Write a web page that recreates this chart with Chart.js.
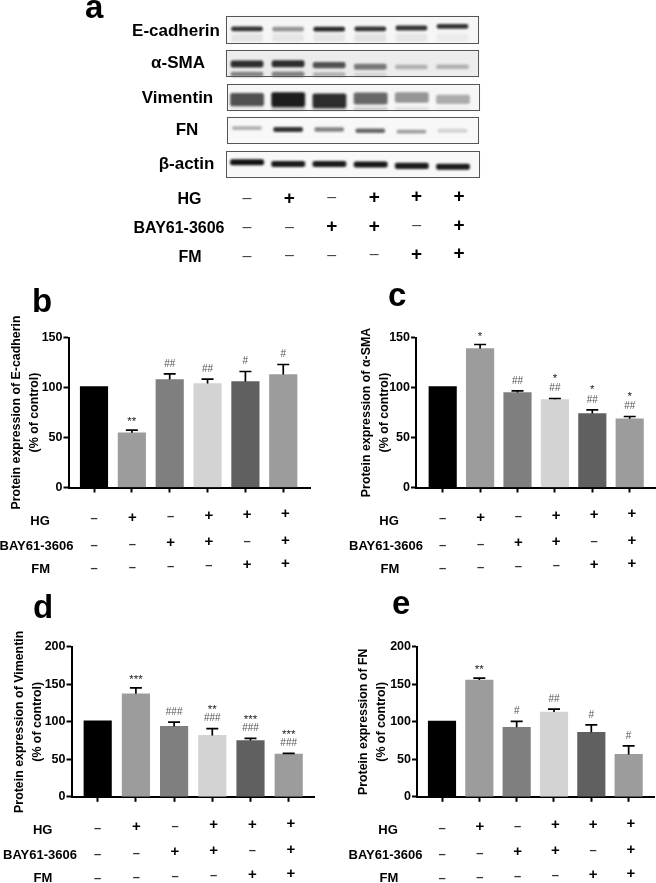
<!DOCTYPE html>
<html>
<head>
<meta charset="utf-8">
<script src="https://cdn.jsdelivr.net/npm/chart.js@4"></script>
<style>
html,body{margin:0;padding:0;background:#fff;}
#page{position:relative;width:656px;height:883px;overflow:hidden;filter:blur(0.3px);font-family:"Liberation Sans",Arial,sans-serif;color:#000;}
#page canvas{position:absolute;}
.t{position:absolute;font-weight:bold;white-space:nowrap;transform:translate(-50%,-50%);line-height:1;}
.letter{position:absolute;font-weight:bold;font-size:33px;line-height:1;color:#000;}
.box{position:absolute;border:1px solid #555;box-sizing:border-box;}
</style>
</head>
<body>
<div id="page"></div>
<script>
// ---------- Categories ----------
const groups = ['Control', 'HG', 'BAY', 'HG+BAY', 'HG+FM', 'HG+BAY+FM'];
const rowNames = ['HG', 'BAY61-3606', 'FM'];
const hgSigns  = ['–', '+', '–', '+', '+', '+'];
const baySigns = ['–', '–', '+', '+', '–', '+'];
const fmSigns  = ['–', '–', '–', '–', '+', '+'];
const barColors = ['#000000', '#9c9c9c', '#7f7f7f', '#d3d3d3', '#606060', '#9c9c9c'];

// ---------- Bar values and error-bar tops ----------
const ecadherinValues = [101, 54.7, 108, 104, 106, 113];
const ecadherinTops   = [101, 57.3, 113.7, 108.3, 116, 123];
const ecadherinMarks  = [[], ['**'], ['##'], ['##'], ['#'], ['#']];
const smaValues = [101, 139, 95, 88, 74, 68.7];
const smaTops   = [101, 143, 96.7, 89, 77.7, 71];
const smaMarks  = [[], ['*'], ['##'], ['*', '##'], ['*', '##'], ['*', '##']];
const vimentinValues = [101.3, 137.3, 93.8, 81.8, 75, 57];
const vimentinTops   = [101.3, 145.3, 99.6, 91, 77.8, 57.8];
const vimentinMarks  = [[], ['***'], ['###'], ['**', '###'], ['***', '###'], ['***', '###']];
const fnValues = [101, 155.7, 92.7, 113, 86, 56.5];
const fnTops   = [101, 158.3, 100.7, 117, 96, 68];
const fnMarks  = [[], ['**'], ['#'], ['##'], ['#'], ['#']];
const yTicks150 = [0, 50, 100, 150];
const yTicks200 = [0, 50, 100, 150, 200];

// ---------- Western blot bands (darkness 0-1, height within strip in %) ----------
const blotEcadDark = [0.85, 0.42, 0.9, 0.85, 0.85, 0.85];
const blotEcadPos  = [54, 53, 53, 54, 57, 63];
const blotEcadSize = [14, 14, 15, 15, 15, 14];
const blotEcadLowDark = [0.07, 0.06, 0.06, 0.08, 0.06, 0.04];
const blotEcadLowPos  = [22, 22, 22, 22, 22, 22];
const blotEcadLowSize = [26, 26, 26, 26, 26, 26];
const blotSmaDark = [0.88, 0.88, 0.72, 0.55, 0.3, 0.3];
const blotSmaPos  = [48, 49, 44, 38, 37, 38];
const blotSmaSize = [24, 24, 20, 20, 14, 14];
const blotSmaLowDark = [0.5, 0.5, 0.3, 0.15, 0.03, 0.03];
const blotSmaLowPos  = [10, 10, 9, 8, 8, 8];
const blotSmaLowSize = [16, 18, 14, 12, 10, 10];
const blotVimDark = [0.72, 0.95, 0.88, 0.62, 0.42, 0.32];
const blotVimPos  = [42, 42, 38, 46, 50, 43];
const blotVimSize = [46, 52, 52, 42, 36, 32];
const blotVimLowDark = [0.05, 0.25, 0.25, 0.2, 0.1, 0.03];
const blotVimLowPos  = [8, 8, 8, 8, 8, 8];
const blotVimLowSize = [10, 10, 10, 10, 10, 10];
const blotFnDark = [0.3, 0.85, 0.5, 0.62, 0.38, 0.15];
const blotFnPos  = [59, 54, 54, 49, 46, 49];
const blotFnSize = [11, 16, 14, 14, 12, 12];
const blotActinDark = [1, 0.96, 0.96, 0.98, 0.96, 0.96];
const blotActinPos  = [58, 52, 52, 50, 45, 42];
const blotActinSize = [20, 20, 20, 20, 20, 20];

const page = document.getElementById('page');
const FONT = '"Liberation Sans", Arial, sans-serif';

function addCanvas(x, y, w, h) {
  const c = document.createElement('canvas');
  c.width = w; c.height = h;
  c.style.left = x + 'px'; c.style.top = y + 'px';
  c.style.width = w + 'px'; c.style.height = h + 'px';
  page.appendChild(c);
  return c;
}
function addText(text, x, y, size, cls, color, weight) {
  const d = document.createElement('div');
  d.className = cls || 't';
  d.textContent = text;
  d.style.left = x + 'px'; d.style.top = y + 'px';
  d.style.fontSize = size + 'px';
  if (color) d.style.color = color;
  if (weight) d.style.fontWeight = weight;
  page.appendChild(d);
}

// ---------- Panel letters ----------
[['a', 85, -10.4], ['b', 32, 283.6], ['c', 388, 277.6], ['d', 33, 589.6], ['e', 392, 585.6]]
  .forEach(l => addText(l[0], l[1], l[2], 33, 'letter'));

// ---------- Blot strips ----------
function blot(cfg) {
  const W = cfg.x1 - cfg.x0, H = cfg.y1 - cfg.y0;
  const gray = d => { const g = Math.round(244 - 226 * d); return `rgb(${g},${g},${g})`; };
  const band = (dark, pos, size, width) => ({
    data: dark.map((d, i) => ({ x: i, y: [pos[i] - size[i] / 2, pos[i] + size[i] / 2] })),
    backgroundColor: dark.map(gray),
    barThickness: width,
    borderRadius: 2,
    borderSkipped: false,
    grouped: false
  });
  const datasets = [band(cfg.dark, cfg.pos, cfg.size, cfg.width)];
  if (cfg.lowDark) datasets.push(band(cfg.lowDark, cfg.lowPos, cfg.lowSize, cfg.width));
  const canvas = addCanvas(cfg.x0, cfg.y0, W, H);
  canvas.style.filter = 'blur(0.9px)';
  const unit = 41.1, start = (247 - cfg.x0) / unit;
  const ch = new Chart(canvas, {
    type: 'bar',
    data: { labels: groups, datasets },
    options: {
      animation: false, responsive: false,
      layout: { padding: 0 },
      plugins: { legend: { display: false }, tooltip: { enabled: false } },
      scales: {
        x: { type: 'linear', offset: false, display: false, min: -start, max: (W / unit) - start, grid: { display: false, offset: false } },
        y: { display: false, min: 0, max: 100, grid: { display: false } }
      }
    },
    plugins: [{ id: 'bg', beforeDraw(c) { c.ctx.fillStyle = cfg.bg; c.ctx.fillRect(0, 0, W, H); } }]
  });
  const box = document.createElement('div');
  box.className = 'box';
  box.style.cssText += `left:${cfg.x0}px;top:${cfg.y0}px;width:${W}px;height:${H}px;`;
  page.appendChild(box);
  addText(cfg.name, cfg.lx, cfg.ly, 17);
  return ch;
}
blot({ name: 'E-cadherin', lx: 176, ly: 30, x0: 226, x1: 479, y0: 15.5, y1: 43.5, dark: blotEcadDark, pos: blotEcadPos, size: blotEcadSize, lowDark: blotEcadLowDark, lowPos: blotEcadLowPos, lowSize: blotEcadLowSize, width: 31, bg: '#f6f6f6' });
blot({ name: 'α-SMA', lx: 178, ly: 62, x0: 226, x1: 479, y0: 49.5, y1: 76.5, dark: blotSmaDark, pos: blotSmaPos, size: blotSmaSize, lowDark: blotSmaLowDark, lowPos: blotSmaLowPos, lowSize: blotSmaLowSize, width: 32, bg: '#ececec' });
blot({ name: 'Vimentin', lx: 177.5, ly: 97, x0: 227, x1: 479.5, y0: 83.5, y1: 111, dark: blotVimDark, pos: blotVimPos, size: blotVimSize, lowDark: blotVimLowDark, lowPos: blotVimLowPos, lowSize: blotVimLowSize, width: 33, bg: '#f6f6f6' });
blot({ name: 'FN', lx: 187, ly: 129, x0: 227, x1: 479, y0: 116.5, y1: 143.5, dark: blotFnDark, pos: blotFnPos, size: blotFnSize, width: 29, bg: '#f8f8f8' });
blot({ name: 'β-actin', lx: 186.5, ly: 163, x0: 226, x1: 479.5, y0: 150.5, y1: 177.5, dark: blotActinDark, pos: blotActinPos, size: blotActinSize, width: 33, bg: '#f8f8f8' });

// ---------- Sign rows of the blot panel ----------
[[hgSigns, 198, 189.5], [baySigns, 227, 179], [fmSigns, 255.7, 190]].forEach((r, k) => {
  addText(rowNames[k], r[2], r[1] + 1, 16);
  r[0].forEach((s, i) => {
    const plus = s === '+';
    addText(s, 247 + i * 42.4, r[1] - i * 0.5 + (plus ? -1 : 0), plus ? 19 : 16, 't', plus ? '#000' : '#444', plus ? 'bold' : 'normal');
  });
});

// ---------- Bar panels ----------
function panel(cfg) {
  const { px, py, pw, ph } = cfg;
  const canvas = addCanvas(px, py, pw, ph);
  const step = cfg.step;
  const xMin = -(cfg.c0 - cfg.axisX) / step;
  const xMax = (cfg.endX - cfg.c0) / step;
  const overlay = {
    id: 'overlay',
    afterDatasetsDraw(c) {
      const ctx = c.ctx, x = c.scales.x, y = c.scales.y;
      ctx.save();
      // error bars
      ctx.strokeStyle = '#000'; ctx.lineWidth = 1.7;
      cfg.tops.forEach((t, i) => {
        if (t <= cfg.values[i]) return;
        const cx = x.getPixelForValue(i), yt = y.getPixelForValue(t), yb = y.getPixelForValue(cfg.values[i]);
        ctx.beginPath();
        ctx.moveTo(cx, yb); ctx.lineTo(cx, yt);
        ctx.moveTo(cx - 6, yt); ctx.lineTo(cx + 6, yt);
        ctx.stroke();
      });
      // significance marks
      ctx.textAlign = 'center'; ctx.textBaseline = 'middle';
      cfg.marks.forEach((m, i) => {
        const cx = x.getPixelForValue(i);
        let my = y.getPixelForValue(cfg.tops[i]) - 10;
        m.slice().reverse().forEach((s, k) => {
          const star = s[0] === '*';
          ctx.font = (star ? '11.5px ' : '10px ') + FONT;
          ctx.fillStyle = star ? '#222' : '#555';
          ctx.fillText(s, cx, my + (star ? 2 : 0));
          my -= cfg.markGap;
        });
      });
      // treatment rows
      const rows = [hgSigns, baySigns, fmSigns];
      rows.forEach((r, k) => {
        const ly = cfg.rowY[k];
        ctx.fillStyle = '#000';
        ctx.font = 'bold 13px ' + FONT;
        ctx.fillText(rowNames[k], cfg.rowLabelX[k] - px, cfg.rowLabelY[k] - py);
        r.forEach((s, i) => {
          const plus = s === '+';
          const sx = x.getPixelForValue(i) + i * 0.45;
          const sy = ly - i * 0.9 - py;
          ctx.fillStyle = plus ? '#000' : '#333';
          ctx.font = (plus ? 'bold 15px ' : 'bold 13px ') + FONT;
          ctx.fillText(s, sx, sy);
        });
      });
      ctx.restore();
    }
  };
  return new Chart(canvas, {
    type: 'bar',
    data: {
      labels: groups,
      datasets: [{
        data: cfg.values.map((v, i) => ({ x: i, y: v })),
        backgroundColor: barColors,
        barThickness: cfg.barW,
        borderWidth: 0
      }]
    },
    options: {
      animation: false, responsive: false,
      layout: { padding: { left: 0, right: pw - (cfg.endX - px), top: cfg.yTop - py, bottom: 0 } },
      plugins: { legend: { display: false }, tooltip: { enabled: false } },
      scales: {
        x: {
          type: 'linear', offset: false, min: xMin, max: xMax,
          border: { color: '#000', width: 2 },
          grid: { display: true, offset: false, drawOnChartArea: false, drawTicks: true, tickLength: 5, tickWidth: 2, tickColor: '#000' },
          ticks: { display: false, autoSkip: false, stepSize: 1 },
          afterBuildTicks(s) { s.ticks = groups.map((g, i) => ({ value: i })); },
          afterFit(s) { s.height = py + ph - cfg.y0; }
        },
        y: {
          min: 0, max: cfg.yMax,
          border: { color: '#000', width: 2 },
          grid: { display: true, drawOnChartArea: false, drawTicks: true, tickLength: 5, tickWidth: 2, tickColor: '#000' },
          ticks: { padding: 1, color: '#000', font: { family: FONT, weight: 'bold', size: 12.5 }, autoSkip: false },
          afterBuildTicks(s) { s.ticks = cfg.yTicks.map(v => ({ value: v })); },
          afterFit(s) { s.width = cfg.axisX - px; },
          title: {
            display: true, text: cfg.title, color: '#000',
            padding: { top: cfg.titleLeft - px - 7.5, bottom: 0 },
            font: { family: FONT, weight: 'bold', size: 12.4, lineHeight: 1.45 }
          }
        }
      }
    },
    plugins: [overlay]
  });
}

panel({
  px: 0, py: 280, pw: 330, ph: 300, axisX: 68.5, endX: 310, c0: 94, step: 37.85, barW: 27.5,
  y0: 487.5, yTop: 337.5, yMax: 150, yTicks: yTicks150,
  title: ['Protein expression of E-cadherin', '(% of control)'], titleLeft: 15,
  values: ecadherinValues, tops: ecadherinTops, marks: ecadherinMarks, markGap: 11,
  rowY: [518.7, 545, 568.5], rowLabelX: [40, 36.5, 40.7], rowLabelY: [521, 546, 569]
});
panel({
  px: 330, py: 280, pw: 326, ph: 300, axisX: 416, endX: 656, c0: 442.7, step: 37.4, barW: 27.5,
  y0: 487.5, yTop: 337.5, yMax: 150, yTicks: yTicks150,
  title: ['Protein expression of α-SMA', '(% of control)'], titleLeft: 365,
  values: smaValues, tops: smaTops, marks: smaMarks, markGap: 12,
  rowY: [518.7, 545, 568.5], rowLabelX: [389, 386, 390], rowLabelY: [521, 546, 569]
});
panel({
  px: 0, py: 585, pw: 330, ph: 298, axisX: 71.5, endX: 314.5, c0: 97.7, step: 38.2, barW: 27.5,
  y0: 796.8, yTop: 646.8, yMax: 200, yTicks: yTicks200,
  title: ['Protein expression of Vimentin', '(% of control)'], titleLeft: 18,
  values: vimentinValues, tops: vimentinTops, marks: vimentinMarks, markGap: 10.5,
  rowY: [828, 854, 878], rowLabelX: [42.7, 40, 43], rowLabelY: [830, 855.7, 878]
});
panel({
  px: 330, py: 585, pw: 326, ph: 298, axisX: 417, endX: 654, c0: 442, step: 37.33, barW: 27.5,
  y0: 796.8, yTop: 646.8, yMax: 200, yTicks: yTicks200,
  title: ['Protein expression of FN', '(% of control)'], titleLeft: 362,
  values: fnValues, tops: fnTops, marks: fnMarks, markGap: 11,
  rowY: [828, 854, 878], rowLabelX: [388, 385.5, 389], rowLabelY: [830, 855.7, 878]
});
</script>
</body>
</html>
